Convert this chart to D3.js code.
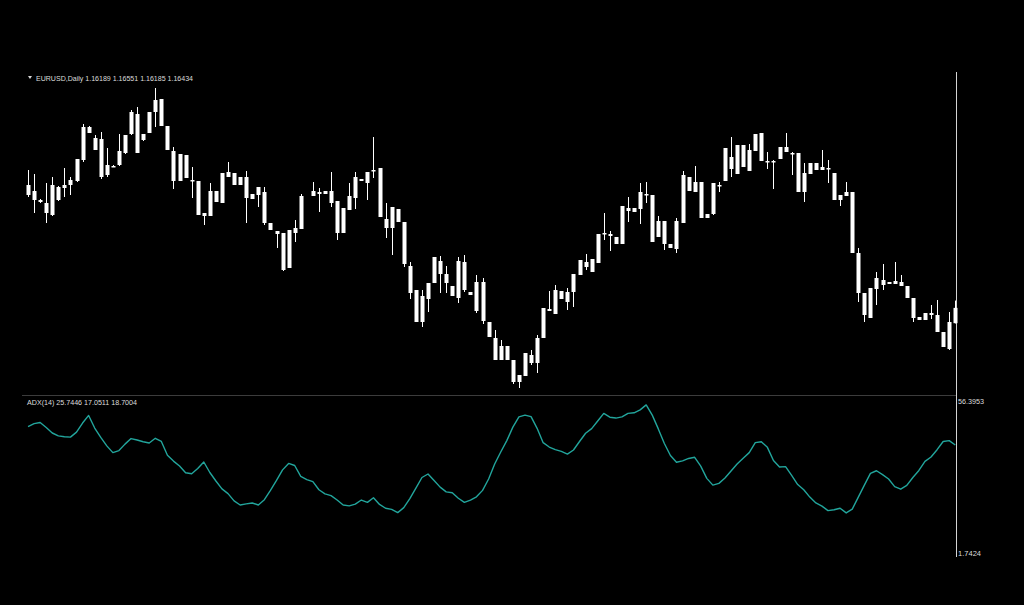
<!DOCTYPE html>
<html>
<head>
<meta charset="utf-8">
<script src="https://cdn.jsdelivr.net/npm/d3@7"></script>
<style>
  html, body { margin: 0; padding: 0; background: #000; }
  svg { display: block; }
</style>
</head>
<body>
<svg id="chart" width="1024" height="605"></svg>
<script>
// ---------- DATA ----------
const symbol = "EURUSD,Daily";
const indicatorName = "ADX(14)";
const diValues = [17.0511, 18.7004];   // +DI, -DI shown in the header
const adxScaleMax = 56.3953;
const adxScaleMin = 1.7424;

// Daily bars (null = no bar drawn in that slot)
const open = [1.18400,1.18304,1.18160,1.18112,1.17920,1.18160,1.18352,1.18400,1.18464,1.18800,
1.19328,1.19152,1.19136,1.18560,1.18704,1.18720,1.18912,1.19216,1.19536,1.19120,
1.19232,1.19568,1.19776,1.19344,1.18944,1.18464,1.18880,1.18480,1.18464,1.17952,
1.17904,1.18304,1.18112,1.18608,1.18592,1.18400,1.18528,1.18176,1.18240,1.18288,
1.17792,1.17664,1.17632,1.17072,1.17632,1.17696,null,1.18224,1.18256,1.18304,
1.18304,1.18144,1.17632,1.18000,1.18192,1.18496,1.18432,1.18640,1.18672,1.17856,
1.17712,1.18016,1.17808,1.17104,1.16720,1.16208,1.16576,1.16832,1.17184,1.16976,
1.16784,1.16592,1.17168,1.16688,1.16848,1.16848,1.16208,1.15952,1.15600,1.15824,
1.15600,1.15360,1.15344,1.15680,1.15552,1.15952,1.16416,1.16336,1.16704,1.16528,
1.16688,1.16960,1.17168,1.17008,1.17152,1.17632,1.17616,1.17568,1.17456,1.18032,
1.17968,1.18016,1.18256,1.18240,1.17568,1.17824,1.17456,1.17376,1.17792,1.18528,
1.18288,1.18448,1.17936,1.17936,1.18384,1.18464,1.18848,1.18576,1.19040,1.18624,
1.18944,1.19232,1.18768,1.18784,1.18816,1.19008,1.18912,1.18912,1.18288,1.18576,
1.18752,1.18688,1.18672,1.18592,1.18160,1.18224,1.18288,1.17312,1.16672,1.16272,
1.16736,1.16880,1.16816,1.16816,1.16848,1.16784,1.16592,1.16288,1.16240,1.16352,
1.16320,1.16048,1.15776,1.16189];
const high = [1.18640,1.18576,1.18176,1.18432,1.18528,1.18384,1.18672,1.18528,1.18816,1.19376,
1.19344,1.19200,1.19248,1.18992,1.18720,1.19216,1.19200,1.19600,1.19648,1.19216,
1.19568,1.19952,1.19776,1.19344,1.19008,1.18896,1.18880,1.18688,1.18464,1.17952,
1.18432,1.18304,1.18592,1.18768,1.18592,1.18528,1.18624,1.18256,1.18368,1.18368,
1.17792,1.17664,1.17632,1.17680,1.17840,1.18256,null,1.18448,1.18352,1.18304,
1.18608,1.18144,1.18032,1.18432,1.18608,1.18496,1.18608,1.19168,1.18672,1.18112,
1.18048,1.18016,1.17808,1.17168,1.16720,1.16720,1.16832,1.17248,1.17264,1.17104,
1.16784,1.17248,1.17280,1.16688,1.16960,1.16912,1.16208,1.16080,1.15920,1.15824,
1.15600,1.15360,1.15712,1.15760,1.16000,1.16432,1.16704,1.16800,1.16704,1.16752,
1.16976,1.17200,1.17296,1.17216,1.17616,1.17952,1.17664,1.17568,1.18064,1.18208,
1.18032,1.18432,1.18448,1.18240,1.17904,1.17824,1.17456,1.17872,1.18624,1.18528,
1.18704,1.18448,1.17936,1.18432,1.18448,1.18992,1.19168,1.19040,1.19040,1.19056,
1.19216,1.19232,1.18928,1.18800,1.19008,1.19232,1.18928,1.18912,1.18752,1.18752,
1.18752,1.18960,1.18800,1.18592,1.18240,1.18448,1.18288,1.17392,1.16672,1.16752,
1.17008,1.17136,1.16848,1.17168,1.16960,1.16784,1.16592,1.16288,1.16352,1.16480,
1.16560,1.16048,1.16368,1.16551];
const low = [1.18208,1.17952,1.18112,1.17792,1.17904,1.18144,1.18208,1.18240,1.18448,1.18768,
1.19232,1.18960,1.18496,1.18528,1.18688,1.18704,1.18896,1.19200,1.18912,1.19104,
1.19232,1.19328,1.19344,1.18960,1.18336,1.18464,1.18512,1.18192,1.17920,1.17760,
1.17904,1.18128,1.18112,1.18528,1.18400,1.18400,1.17792,1.18176,1.18048,1.17760,
1.17680,1.17392,1.17024,1.17072,1.17488,1.17696,null,1.18224,1.17968,1.18256,
1.18048,1.17520,1.17632,1.18000,1.18016,1.18464,1.18160,1.18512,1.17888,1.17552,
1.17280,1.17808,1.17088,1.16576,1.16208,1.16128,1.16368,1.16832,1.16672,1.16672,
1.16624,1.16512,1.16688,1.16640,1.16352,1.16176,1.15968,1.15600,1.15600,1.15600,
1.15216,1.15152,1.15344,1.15520,1.15392,1.15952,1.16384,1.16336,1.16576,1.16400,
1.16448,1.16960,1.17040,1.17008,1.17152,1.17520,1.17344,1.17456,1.17456,1.17808,
1.17968,1.17776,1.18112,1.17488,1.17568,1.17360,1.17392,1.17312,1.17792,1.18304,
1.18288,1.17872,1.17872,1.17920,1.18288,1.18464,1.18528,1.18576,1.18688,1.18624,
1.18944,1.18784,1.18656,1.18336,1.18816,1.18928,1.18560,1.18288,1.18128,1.18576,
1.18640,1.18640,1.18432,1.18160,1.18064,1.18224,1.17312,1.16528,1.16208,1.16272,
1.16480,1.16720,1.16816,1.16816,1.16784,1.16592,1.16208,1.16240,1.16240,1.16256,
1.16048,1.15808,1.15760,1.16185];
const close = [1.18240,1.18160,1.18128,1.17952,1.18400,1.18368,1.18400,1.18480,1.18816,1.19328,
1.19232,1.18960,1.18528,1.18720,1.18688,1.18944,1.19200,1.19568,1.18912,1.19216,
1.19568,1.19760,1.19344,1.18960,1.18464,1.18896,1.18512,1.18464,1.17920,1.17904,
1.18304,1.18128,1.18592,1.18528,1.18400,1.18528,1.18192,1.18256,1.18368,1.17792,
1.17680,1.17616,1.17040,1.17680,1.17712,1.18224,null,1.18304,1.18288,1.18256,
1.18112,1.17632,1.18032,1.18224,1.18528,1.18464,1.18608,1.18624,1.17888,1.17712,
1.18048,1.17808,1.17136,1.16672,1.16208,1.16624,1.16832,1.17248,1.16976,1.16832,
1.16624,1.17184,1.16720,1.16640,1.16384,1.16224,1.15968,1.15600,1.15824,1.15600,
1.15248,1.15248,1.15712,1.15552,1.15952,1.16432,1.16384,1.16720,1.16576,1.16688,
1.16976,1.17200,1.17088,1.17216,1.17616,1.17616,1.17584,1.17456,1.18064,1.17984,
1.18032,1.18288,1.18240,1.17488,1.17824,1.17456,1.17392,1.17824,1.18560,1.18304,
1.18448,1.17872,1.17872,1.18432,1.18400,1.18992,1.18656,1.19040,1.18688,1.18960,
1.19216,1.18784,1.18784,1.18768,1.19008,1.18928,1.18896,1.18288,1.18592,1.18752,
1.18640,1.18640,1.18656,1.18160,1.18240,1.18288,1.17312,1.16672,1.16320,1.16752,
1.16912,1.16800,1.16848,1.16864,1.16784,1.16592,1.16272,1.16240,1.16352,1.16320,
1.16048,1.15808,1.16208,1.16434];

const adx = [46.3,47.3,47.7,46.0,44.1,43.1,42.8,42.7,44.4,47.5,
50.1,45.8,42.6,39.7,37.4,38.1,40.3,42.2,41.7,41.1,
40.7,42.3,41.2,36.5,34.5,32.8,30.5,30.2,32.0,34.2,
30.6,27.7,25.0,23.4,20.9,19.5,19.9,20.2,19.5,21.3,
24.5,27.9,31.5,33.7,33.0,29.3,28.2,27.5,24.7,23.3,
22.7,21.2,19.5,19.2,19.8,21.2,20.4,22.0,19.7,18.4,
18.0,16.9,18.6,21.7,25.3,28.9,30.1,27.9,25.6,24.0,
23.7,21.8,20.4,21.2,22.3,24.5,28.4,33.5,37.6,41.5,
46.1,49.6,50.2,49.7,45.7,40.8,39.3,38.4,37.8,36.9,
38.3,41.2,44.0,45.6,48.2,50.8,49.5,49.2,49.6,50.8,
51.0,52.0,53.7,50.2,45.5,40.5,36.4,34.1,34.6,35.4,
35.8,32.8,28.6,26.3,26.9,28.7,31.1,33.5,35.5,37.4,
40.8,41.1,39.2,34.7,32.5,32.6,29.6,26.5,24.7,22.2,
20.2,19.1,17.6,17.9,18.4,16.8,18.1,22.2,26.3,30.3,
31.2,29.9,28.4,25.8,24.9,26.2,28.9,31.3,34.4,35.9,
38.4,41.2,41.5,40.0];
const adxLast = 25.7446;

// ---------- LAYOUT ----------
const svg = d3.select("#chart");
svg.append("rect").attr("width", 1024).attr("height", 605).attr("fill", "#000");

const bars = d3.range(open.length);
const x = d3.scaleBand().domain(bars).range([25, 958.3]).padding(0);
const cx = i => x(i) + x.bandwidth() / 2;

const yPrice = d3.scaleLinear().domain([1.15056, 1.20208]).range([394, 72]);
const yAdx = d3.scaleLinear().domain([adxScaleMin, adxScaleMax]).range([557, 397]);

const font = "'Liberation Sans', Arial, sans-serif";

// separator and right border
svg.append("line").attr("x1", 22).attr("x2", 957).attr("y1", 395.5).attr("y2", 395.5)
  .attr("stroke", "#3c3c3c").attr("stroke-width", 1);
svg.append("line").attr("x1", 956.5).attr("x2", 956.5).attr("y1", 72).attr("y2", 557)
  .attr("stroke", "#d4d4d4").attr("stroke-width", 1);

// ---------- CANDLES ----------
const candleData = bars.filter(i => open[i] !== null).map(i => ({
  i, o: open[i], h: high[i], l: low[i], c: close[i]
}));
const g = svg.append("g");
g.selectAll("line.wick").data(candleData).join("line")
  .attr("class", "wick")
  .attr("x1", d => Math.round(cx(d.i)) + 0.5).attr("x2", d => Math.round(cx(d.i)) + 0.5)
  .attr("y1", d => yPrice(d.h)).attr("y2", d => yPrice(d.l))
  .attr("stroke", "#ffffff").attr("stroke-width", 1);
g.selectAll("rect.body").data(candleData).join("rect")
  .attr("class", "body")
  .attr("x", d => Math.round(cx(d.i)) - 1.5)
  .attr("width", 4)
  .attr("y", d => yPrice(Math.max(d.o, d.c)))
  .attr("height", d => Math.max(1.5, Math.abs(yPrice(d.o) - yPrice(d.c))))
  .attr("fill", "#ffffff");

// ---------- ADX ----------
const line = d3.line().x((d, i) => cx(i)).y(d => yAdx(d)).curve(d3.curveLinear);
svg.append("path").datum(adx).attr("d", line)
  .attr("fill", "none").attr("stroke", "#22a59c").attr("stroke-width", 1.4)
  .attr("stroke-linejoin", "round");

// ---------- TEXT ----------
const last = open.length - 1;
const f5 = d3.format(".5f");
svg.append("path").attr("d", "M28,76 L32,76 L30,79 Z").attr("fill", "#d8d8d8");
svg.append("text").attr("x", 36).attr("y", 80.5)
  .attr("font-family", font).attr("font-size", 7.5).attr("fill", "#dcdcdc")
  .attr("textLength", 157).attr("lengthAdjust", "spacingAndGlyphs")
  .text(`${symbol}  ${f5(open[last])} ${f5(high[last])} ${f5(low[last])} ${f5(close[last])}`);

const f4 = d3.format(".4f");
svg.append("text").attr("x", 27).attr("y", 405)
  .attr("font-family", font).attr("font-size", 7.5).attr("fill", "#dcdcdc")
  .attr("textLength", 110).attr("lengthAdjust", "spacingAndGlyphs")
  .text(`${indicatorName} ${f4(adxLast)} ${f4(diValues[0])} ${f4(diValues[1])}`);

svg.append("text").attr("x", 958).attr("y", 404)
  .attr("font-family", font).attr("font-size", 7.5).attr("fill", "#dcdcdc")
  .attr("textLength", 26).attr("lengthAdjust", "spacingAndGlyphs")
  .text(f4(adxScaleMax));
svg.append("text").attr("x", 958).attr("y", 556)
  .attr("font-family", font).attr("font-size", 7.5).attr("fill", "#dcdcdc")
  .attr("textLength", 23).attr("lengthAdjust", "spacingAndGlyphs")
  .text(f4(adxScaleMin));
</script>
</body>
</html>
